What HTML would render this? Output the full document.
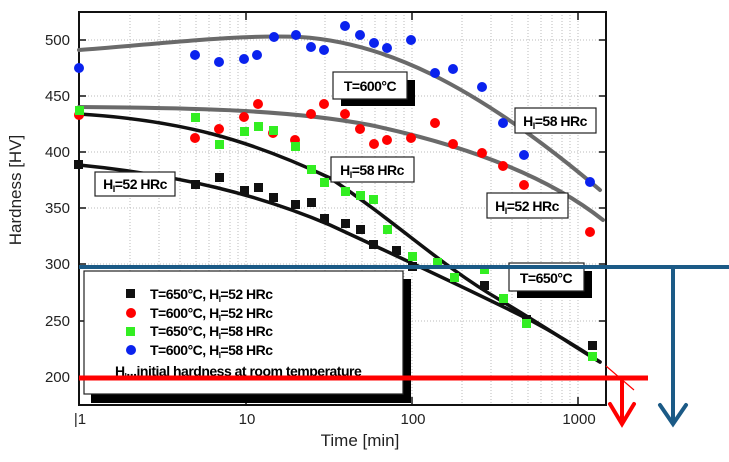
<!DOCTYPE html>
<html><head><meta charset="utf-8"><style>
body{margin:0;background:#fff}
svg{display:block;font-family:"Liberation Sans",Arial,sans-serif}
.bx{fill:#fff;stroke:#222;stroke-width:1.2}
.lb{font-size:14px;font-weight:bold;letter-spacing:-0.5px}
.tk{font-size:15px;fill:#222}
</style></head><body>
<svg width="729" height="462" viewBox="0 0 729 462">
<rect width="729" height="462" fill="#fff"/>
<!-- grid -->
<g stroke="#bbb" stroke-width="1" stroke-dasharray="1,2">
<line x1="79" y1="40" x2="606" y2="40"/><line x1="79" y1="96" x2="606" y2="96"/><line x1="79" y1="152" x2="606" y2="152"/><line x1="79" y1="208" x2="606" y2="208"/><line x1="79" y1="264" x2="606" y2="264"/><line x1="79" y1="321" x2="606" y2="321"/><line x1="79" y1="377" x2="606" y2="377"/>
<line x1="130" y1="12" x2="130" y2="405"/><line x1="159" y1="12" x2="159" y2="405"/><line x1="180" y1="12" x2="180" y2="405"/><line x1="196" y1="12" x2="196" y2="405"/><line x1="209" y1="12" x2="209" y2="405"/><line x1="220" y1="12" x2="220" y2="405"/><line x1="230" y1="12" x2="230" y2="405"/><line x1="238" y1="12" x2="238" y2="405"/><line x1="246" y1="12" x2="246" y2="405"/>
<line x1="296" y1="12" x2="296" y2="405"/><line x1="325" y1="12" x2="325" y2="405"/><line x1="346" y1="12" x2="346" y2="405"/><line x1="362" y1="12" x2="362" y2="405"/><line x1="375" y1="12" x2="375" y2="405"/><line x1="386" y1="12" x2="386" y2="405"/><line x1="396" y1="12" x2="396" y2="405"/><line x1="404" y1="12" x2="404" y2="405"/><line x1="412" y1="12" x2="412" y2="405"/>
<line x1="462" y1="12" x2="462" y2="405"/><line x1="491" y1="12" x2="491" y2="405"/><line x1="512" y1="12" x2="512" y2="405"/><line x1="528" y1="12" x2="528" y2="405"/><line x1="541" y1="12" x2="541" y2="405"/><line x1="552" y1="12" x2="552" y2="405"/><line x1="562" y1="12" x2="562" y2="405"/><line x1="570" y1="12" x2="570" y2="405"/><line x1="578" y1="12" x2="578" y2="405"/>
</g>
<!-- axes -->
<rect x="79" y="12" width="527" height="393" fill="none" stroke="#111" stroke-width="2"/>
<g stroke="#111" stroke-width="1.5">
<line x1="79" y1="40" x2="86" y2="40"/><line x1="79" y1="96" x2="86" y2="96"/><line x1="79" y1="152" x2="86" y2="152"/><line x1="79" y1="208" x2="86" y2="208"/><line x1="79" y1="264" x2="86" y2="264"/><line x1="79" y1="321" x2="86" y2="321"/><line x1="79" y1="377" x2="86" y2="377"/>
<line x1="606" y1="40" x2="599" y2="40"/><line x1="606" y1="96" x2="599" y2="96"/><line x1="606" y1="152" x2="599" y2="152"/><line x1="606" y1="208" x2="599" y2="208"/><line x1="606" y1="264" x2="599" y2="264"/><line x1="606" y1="321" x2="599" y2="321"/><line x1="606" y1="377" x2="599" y2="377"/>
<line x1="246" y1="12" x2="246" y2="20"/><line x1="412" y1="12" x2="412" y2="20"/><line x1="578" y1="12" x2="578" y2="20"/>
<line x1="246" y1="405" x2="246" y2="397"/><line x1="412" y1="405" x2="412" y2="397"/><line x1="578" y1="405" x2="578" y2="397"/>
</g>
<g class="tk" text-anchor="end">
<text x="70" y="45">500</text><text x="70" y="101">450</text><text x="70" y="157">400</text><text x="70" y="213">350</text><text x="70" y="269">300</text><text x="70" y="326">250</text><text x="70" y="382">200</text>
</g>
<g class="tk" text-anchor="middle"><text x="80" y="424">|1</text><text x="247" y="424">10</text><text x="413" y="424">100</text><text x="579" y="424">1000</text></g>
<text x="360" y="446" text-anchor="middle" font-size="17" fill="#222">Time [min]</text>
<text transform="translate(21,190) rotate(-90)" text-anchor="middle" font-size="17" fill="#222">Hardness [HV]</text>
<!-- curves -->
<g fill="none" stroke-linecap="round">
<path d="M79,50 C160,44 240,34 300,37 C380,42 470,80 600,190" stroke="#6a6a6a" stroke-width="4"/>
<path d="M79,107 C200,108 290,110 370,125 C450,142 540,170 603,220" stroke="#6a6a6a" stroke-width="4"/>
<path d="M79,114 C180,120 250,140 330,178 C400,225 440,265 500,300 C550,330 580,350 600,362" stroke="#111" stroke-width="3.5"/>
<path d="M79,165 C180,175 260,195 330,225 C410,262 470,290 530,320 C560,336 585,352 600,362" stroke="#111" stroke-width="3.5"/>
</g>
<!-- blue -->
<g fill="#0a22ee">
<circle cx="79" cy="68" r="5"/><circle cx="195" cy="55" r="5"/><circle cx="219" cy="62" r="5"/><circle cx="244" cy="59" r="5"/><circle cx="257" cy="55" r="5"/><circle cx="274" cy="37" r="5"/><circle cx="296" cy="35" r="5"/><circle cx="311" cy="47" r="5"/><circle cx="324" cy="50" r="5"/><circle cx="345" cy="26" r="5"/><circle cx="360" cy="35" r="5"/><circle cx="374" cy="43" r="5"/><circle cx="387" cy="48" r="5"/><circle cx="411" cy="40" r="5"/><circle cx="435" cy="73" r="5"/><circle cx="453" cy="69" r="5"/><circle cx="482" cy="87" r="5"/><circle cx="503" cy="123" r="5"/><circle cx="524" cy="155" r="5"/><circle cx="590" cy="182" r="5"/>
</g>
<g fill="#f00">
<circle cx="79" cy="115" r="5"/><circle cx="195" cy="138" r="5"/><circle cx="219" cy="129" r="5"/><circle cx="244" cy="117" r="5"/><circle cx="258" cy="104" r="5"/><circle cx="273" cy="133" r="5"/><circle cx="295" cy="140" r="5"/><circle cx="311" cy="114" r="5"/><circle cx="324" cy="104" r="5"/><circle cx="345" cy="114" r="5"/><circle cx="360" cy="129" r="5"/><circle cx="374" cy="144" r="5"/><circle cx="387" cy="140" r="5"/><circle cx="411" cy="138" r="5"/><circle cx="435" cy="123" r="5"/><circle cx="453" cy="144" r="5"/><circle cx="482" cy="153" r="5"/><circle cx="503" cy="166" r="5"/><circle cx="524" cy="185" r="5"/><circle cx="590" cy="232" r="5"/>
</g>
<g fill="#111">
<rect x="74" y="160" width="9" height="9"/><rect x="191" y="180" width="9" height="9"/><rect x="215" y="173" width="9" height="9"/><rect x="240" y="186" width="9" height="9"/><rect x="254" y="183" width="9" height="9"/><rect x="269" y="193" width="9" height="9"/><rect x="291" y="200" width="9" height="9"/><rect x="307" y="198" width="9" height="9"/><rect x="320" y="214" width="9" height="9"/><rect x="341" y="219" width="9" height="9"/><rect x="356" y="225" width="9" height="9"/><rect x="369" y="240" width="9" height="9"/><rect x="392" y="246" width="9" height="9"/><rect x="408" y="262" width="9" height="9"/><rect x="480" y="281" width="9" height="9"/><rect x="499" y="296" width="9" height="9"/><rect x="522" y="315" width="9" height="9"/><rect x="588" y="341" width="9" height="9"/>
</g>
<g fill="#33ee22">
<rect x="75" y="106" width="9" height="9"/><rect x="191" y="113" width="9" height="9"/><rect x="215" y="140" width="9" height="9"/><rect x="240" y="127" width="9" height="9"/><rect x="254" y="122" width="9" height="9"/><rect x="269" y="126" width="9" height="9"/><rect x="291" y="142" width="9" height="9"/><rect x="307" y="165" width="9" height="9"/><rect x="320" y="178" width="9" height="9"/><rect x="341" y="187" width="9" height="9"/><rect x="356" y="191" width="9" height="9"/><rect x="369" y="195" width="9" height="9"/><rect x="383" y="225" width="9" height="9"/><rect x="408" y="252" width="9" height="9"/><rect x="433" y="258" width="9" height="9"/><rect x="450" y="273" width="9" height="9"/><rect x="480" y="265" width="9" height="9"/><rect x="499" y="294" width="9" height="9"/><rect x="522" y="319" width="9" height="9"/><rect x="588" y="352" width="9" height="9"/>
</g>
<!-- label boxes -->
<rect x="341" y="80" width="74" height="26" fill="#000"/>
<rect class="bx" x="333" y="72" width="74" height="27"/><text class="lb" x="370" y="91" text-anchor="middle" font-size="15">T=600°C</text>
<rect class="bx" x="515" y="108" width="81" height="25"/><text class="lb" x="555" y="126" text-anchor="middle">H<tspan font-size="9" dy="3">I</tspan><tspan dy="-3">=58 HRc</tspan></text>
<rect class="bx" x="331" y="157" width="83" height="25"/><text class="lb" x="372" y="175" text-anchor="middle">H<tspan font-size="9" dy="3">I</tspan><tspan dy="-3">=58 HRc</tspan></text>
<rect class="bx" x="95" y="172" width="80" height="24"/><text class="lb" x="135" y="189" text-anchor="middle">H<tspan font-size="9" dy="3">I</tspan><tspan dy="-3">=52 HRc</tspan></text>
<rect class="bx" x="487" y="193" width="81" height="25"/><text class="lb" x="527" y="211" text-anchor="middle">H<tspan font-size="9" dy="3">I</tspan><tspan dy="-3">=52 HRc</tspan></text>
<rect x="517" y="271" width="75" height="27" fill="#000"/>
<rect class="bx" x="509" y="263" width="75" height="28"/><text class="lb" x="546" y="283" text-anchor="middle" font-size="15">T=650°C</text>
<!-- legend -->
<rect x="91" y="279" width="320" height="124" fill="#000"/>
<rect class="bx" x="84" y="271" width="319" height="123"/>
<rect x="126" y="289" width="9" height="9" fill="#111"/><circle cx="131" cy="313" r="5" fill="#f00"/><rect x="126" y="327" width="9" height="9" fill="#33ee22"/><circle cx="131" cy="350" r="5" fill="#0a22ee"/>
<g class="lb" font-size="13">
<text x="150" y="299">T=650°C, H<tspan font-size="8" dy="3">I</tspan><tspan dy="-3">=52 HRc</tspan></text>
<text x="150" y="318">T=600°C, H<tspan font-size="8" dy="3">I</tspan><tspan dy="-3">=52 HRc</tspan></text>
<text x="150" y="336">T=650°C, H<tspan font-size="8" dy="3">I</tspan><tspan dy="-3">=58 HRc</tspan></text>
<text x="150" y="355">T=600°C, H<tspan font-size="8" dy="3">I</tspan><tspan dy="-3">=58 HRc</tspan></text>
<text x="115" y="376">H<tspan font-size="8" dy="3">I</tspan><tspan dy="-3">...initial hardness at room temperature</tspan></text>
</g>
<!-- overlay lines -->
<line x1="79" y1="267" x2="729" y2="267" stroke="#1b5a86" stroke-width="4"/>
<line x1="673" y1="267" x2="673" y2="424" stroke="#1b5a86" stroke-width="4"/>
<polyline points="660,405 673,424 686,405" fill="none" stroke="#1b5a86" stroke-width="4" stroke-linecap="round"/>
<line x1="79" y1="378" x2="648" y2="378" stroke="#f00" stroke-width="5"/>
<line x1="622" y1="378" x2="622" y2="424" stroke="#f00" stroke-width="4"/>
<polyline points="610,404 622,424 634,404" fill="none" stroke="#f00" stroke-width="4" stroke-linecap="round"/>
<line x1="606" y1="366" x2="634" y2="390" stroke="#f00" stroke-width="1.2"/>
</svg>
</body></html>
